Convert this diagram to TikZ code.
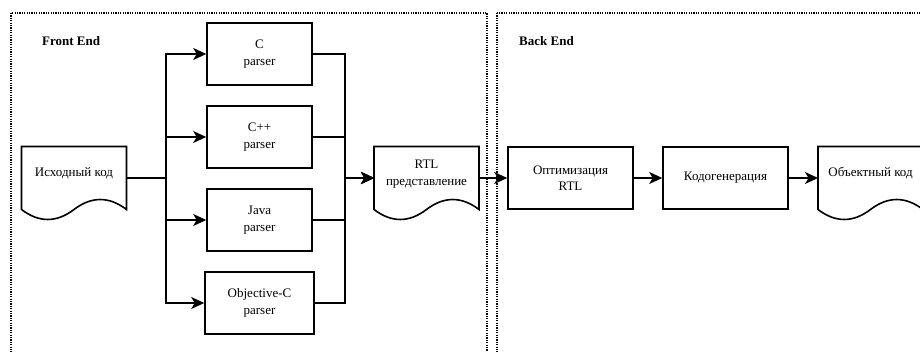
\documentclass[tikz,border=0pt]{standalone}
\usepackage{fontspec}
\setmainfont{Liberation Serif}
\usetikzlibrary{arrows.meta,calc}
\tikzset{
  line/.style={line width=1.6pt, draw=black},
  box/.style={draw=black, line width=1.6pt, minimum width=105pt, minimum height=62pt, align=center, inner sep=0pt},
  docnode/.style={minimum width=105pt, minimum height=63pt, inner sep=0pt, outer sep=0pt},
  conn/.style={line width=1.6pt, draw=black, -{Stealth[length=13pt,width=12pt,inset=3.5pt]}},
  frame/.style={line width=1.3pt, dash pattern=on 1.2pt off 1.2pt},
  title/.style={font=\fontsize{13}{16.5}\selectfont\bfseries, anchor=west, inner sep=0pt}
}
\newcommand\docoutline[1]{%
  \draw[line, line join=miter] (#1.north west) -- (#1.north east) -- (#1.south east)
   .. controls ($(#1.south east)!1/6!(#1.south west)+(0,-13.3)$) and ($(#1.south east)!1/3!(#1.south west)+(0,-13.3)$) .. (#1.south)
   .. controls ($(#1.south east)!2/3!(#1.south west)+(0,13.3)$) and ($(#1.south east)!5/6!(#1.south west)+(0,13.3)$) .. (#1.south west) -- cycle;}
\begin{document}
\begin{tikzpicture}[x=1pt, y=-1pt, font=\fontsize{13}{16.5}\selectfont]
\useasboundingbox (0,0) rectangle (920,352);
% frames
\draw[frame] (11,13) rectangle (487,365);
\draw[frame] (497,13) rectangle (935,365);
\node[title] (fe) at (42,41) {Front End};
\node[title] (be) at (519,41) {Back End};
% document shapes
\node[docnode, label={[yshift=4.5pt]center:Исходный код}] (src) at (74,178) {};
\node[docnode, label={[yshift=4pt, align=center]center:RTL\\представление}] (rtl) at (426.5,178) {};
\node[docnode, label={[yshift=4.5pt]center:Объектный код}] (obj) at (870.5,178) {};
\docoutline{src}
\docoutline{rtl}
\docoutline{obj}
% parser boxes
\node[box] (cpar) at (259.5,54) {C\\parser};
\node[box] (cpp) at (259.5,137) {C++\\parser};
\node[box] (java) at (259.5,220) {Java\\parser};
\node[box, minimum width=109pt] (objc) at (259.5,303) {Objective-C\\parser};
% back end boxes
\node[box, minimum width=125pt] (opt) at (570.5,178) {Оптимизация\\RTL};
\node[box, minimum width=125pt] (gen) at (725.5,178) {Кодогенерация};
% connectors
\coordinate (busL) at (166,178);
\coordinate (busR) at (345,178);
\foreach \n in {cpar,cpp,java,objc}{
  \draw[conn] (src.east) -- (busL) |- (\n.west);
  \draw[conn] (\n.east) -| (busR) -- (rtl.west);
}
\draw[conn] (rtl.east) -- (opt.west);
\draw[conn] (opt.east) -- (gen.west);
\draw[conn] (gen.east) -- (obj.west);
\end{tikzpicture}
\end{document}
